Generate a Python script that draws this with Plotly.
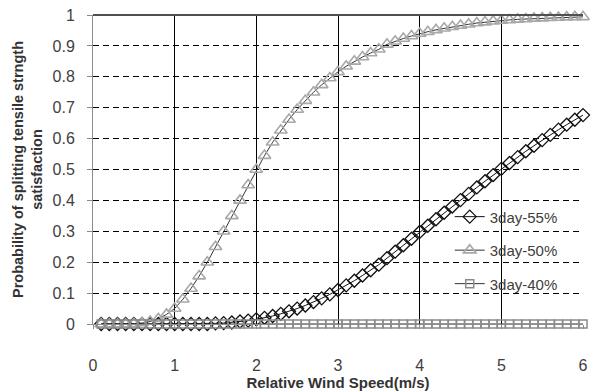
import plotly.graph_objects as go

x_vals = [round(0.1 * i, 1) for i in range(1, 61)]

p55 = [0, 0, 0, 0, 0, 0, 0, 0, 0, 0,
       0, 0, 0, 0, 0.002, 0.003, 0.005, 0.008, 0.011, 0.015,
       0.02, 0.026, 0.033, 0.041, 0.05, 0.06, 0.071, 0.083, 0.096, 0.11,
       0.125, 0.14, 0.157, 0.174, 0.192, 0.213, 0.234, 0.255, 0.276, 0.298,
       0.318, 0.339, 0.36, 0.38, 0.401, 0.421, 0.442, 0.462, 0.482, 0.502,
       0.521, 0.54, 0.559, 0.577, 0.595, 0.612, 0.629, 0.645, 0.661, 0.676]

p50 = [0, 0, 0, 0, 0.001, 0.003, 0.008, 0.017, 0.031, 0.05,
       0.08, 0.115, 0.155, 0.2, 0.25, 0.3, 0.35, 0.4, 0.45, 0.5,
       0.545, 0.588, 0.627, 0.662, 0.694, 0.723, 0.75, 0.774, 0.796, 0.816,
       0.834, 0.85, 0.864, 0.877, 0.889, 0.905, 0.915, 0.924, 0.932, 0.94,
       0.946, 0.952, 0.957, 0.962, 0.966, 0.97, 0.974, 0.977, 0.98, 0.982,
       0.984, 0.986, 0.987, 0.989, 0.99, 0.991, 0.992, 0.993, 0.994, 0.994]

p40 = [0] * 60

names = ["3day-55%", "3day-50%", "3day-40%"]
x_ticks = [0, 1, 2, 3, 4, 5, 6]
y_ticks = [0, 0.1, 0.2, 0.3, 0.4, 0.5, 0.6, 0.7, 0.8, 0.9, 1]
y_tick_text = ["0", "0.1", "0.2", "0.3", "0.4", "0.5", "0.6", "0.7", "0.8", "0.9", "1"]

fig = go.Figure()
fig.add_trace(go.Scatter(
    x=x_vals, y=p55, name=names[0], mode="lines+markers", legendgroup="a",
    line=dict(color="#111111", width=1),
    marker=dict(symbol="diamond-open", size=10, color="#111111", line=dict(width=1.3, color="#111111")),
    cliponaxis=False))
fig.add_trace(go.Scatter(
    x=x_vals, y=p50, name=names[1], mode="lines+markers", legendgroup="b",
    line=dict(color="#333333", width=1),
    marker=dict(symbol="triangle-up-open", size=11, color="#a8a8a8", line=dict(width=1.6, color="#a8a8a8")),
    cliponaxis=False))
fig.add_trace(go.Scatter(
    x=x_vals, y=p40, name=names[2], mode="lines+markers", legendgroup="c",
    line=dict(color="#333333", width=1),
    marker=dict(symbol="square-open", size=8, color="#8a8a8a", line=dict(width=1.5, color="#8a8a8a")),
    cliponaxis=False))

fig.add_shape(type="line", xref="paper", yref="paper", x0=0, x1=1, y0=1, y1=1,
              line=dict(color="#505050", width=2), layer="above")

fig.update_layout(
    width=598, height=392,
    margin=dict(l=93, r=15, t=15, b=68),
    paper_bgcolor="white", plot_bgcolor="white",
    font=dict(family="Liberation Sans", color="#404040", size=15),
    showlegend=True,
    legend=dict(x=0.728, y=0.40, xanchor="left", yanchor="top",
                bgcolor="rgba(0,0,0,0)", font=dict(size=15, color="#404040"),
                tracegroupgap=11),
    xaxis=dict(range=[0, 6], tickvals=x_ticks, ticktext=[str(t) for t in x_ticks],
               showgrid=True, gridcolor="#000000", gridwidth=1,
               zeroline=False, showline=True, linecolor="#8c8c8c", linewidth=1,
               ticks="outside", ticklen=4, tickcolor="#8c8c8c",
               ticklabelstandoff=23, automargin=False,
               tickfont=dict(size=16, color="#404040"),
               title=dict(text="<b>Relative Wind Speed(m/s)</b>", font=dict(size=15, color="#333333"), standoff=4)),
    yaxis=dict(range=[0, 1], tickvals=y_ticks, ticktext=y_tick_text,
               showgrid=True, gridcolor="#000000", gridwidth=1, griddash="6px,4px",
               zeroline=False, showline=True, linecolor="#8c8c8c", linewidth=1,
               ticks="outside", ticklen=5, tickcolor="#8c8c8c",
               ticklabelstandoff=9, automargin=False,
               tickfont=dict(size=16, color="#404040"),
               title=dict(text="<b>Probability of splitting tensile strngth<br>satisfaction</b>",
                          font=dict(size=14.5, color="#333333"), standoff=6)),
)

fig.write_html("out.html")
